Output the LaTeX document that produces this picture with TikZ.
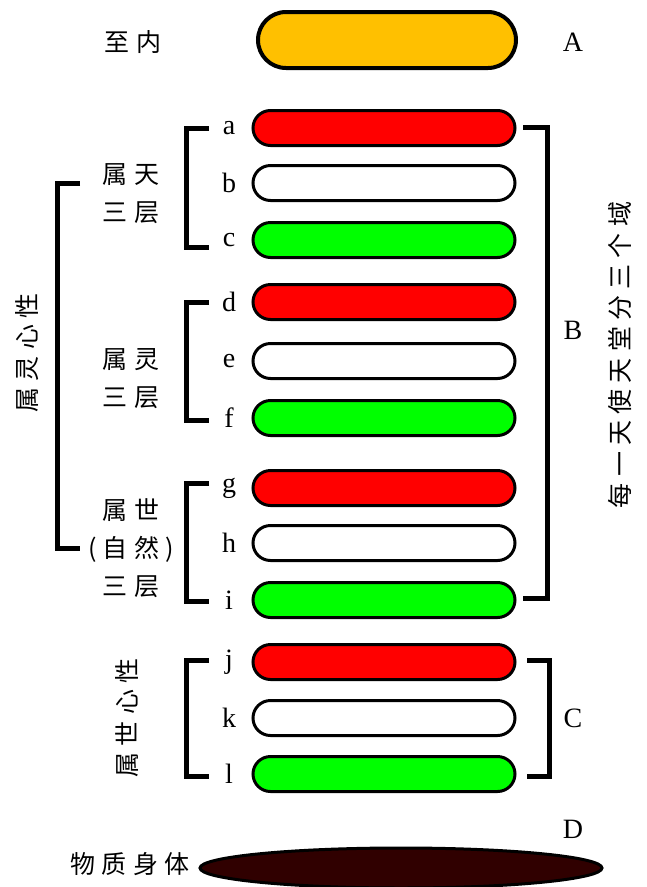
\documentclass[tikz,border=0pt]{standalone}
\usepackage{fontspec}
\setmainfont{Liberation Serif}
\newfontfamily\cjk{Noto Sans CJK SC}[LetterSpace=25]
\usetikzlibrary{shapes.misc,shapes.geometric}
\definecolor{pillorange}{HTML}{FFC000}
\definecolor{pillred}{HTML}{FF0000}
\definecolor{pillgreen}{HTML}{00FF00}
\definecolor{pillbody}{HTML}{300000}
\tikzset{
  pill/.style={rounded rectangle, draw, line width=3pt, minimum width=262pt, minimum height=35pt, inner sep=0pt},
  brk/.style={line width=5pt},
  lbl/.style={font=\fontsize{28}{30}\selectfont},
  zh/.style={font=\cjk\fontsize{25}{38}\selectfont, align=center},
}
\begin{document}
\begin{tikzpicture}[x=1pt,y=-1pt]
\useasboundingbox (0,0) rectangle (646,887);
\node[pill, fill=pillorange, line width=4pt, minimum width=258pt, minimum height=56pt] (inmost) at (387,40) {};
\node[zh] (inmosttext) at (133,42) {至内};
\node[lbl] (A) at (573,42) {A};
\foreach \n/\y/\c in {a/128/pillred, b/183/white, c/240/pillgreen,
                      d/302/pillred, e/361/white, f/418/pillgreen,
                      g/488/pillred, h/543/white, i/600/pillgreen,
                      j/662/pillred, k/718/white, l/774/pillgreen} {
  \node[pill, fill=\c] (\n) at (384,\y) {};
  \node[lbl] (l\n) at (229,\y) {\n};
}
\draw[brk] (209,128) -| (186,247) -- (209,247);
\draw[brk] (209,302) -| (186,420) -- (209,420);
\draw[brk] (209,483) -| (186,601) -- (209,601);
\draw[brk] (209,660) -| (186,776) -- (209,776);
\draw[brk] (80,183) -| (57,548) -- (80,548);
\draw[brk] (523,127) -| (547,598) -- (523,598);
\draw[brk] (527,660) -| (549,776) -- (527,776);
\node[zh] (heaven) at (131,194) {属天\\三层};
\node[zh] (spirit) at (131,379) {属灵\\三层};
\node[zh] (natural) at (131,548) {属世\\(自然)\\三层};
\node[zh, rotate=90] (spiritmind) at (27,353) {属灵心性};
\node[zh, rotate=90] (naturalmind) at (127,718) {属世心性};
\node[zh, rotate=90] (threedomains) at (620,355) {每一天使天堂分三个域};
\node[lbl] (B) at (573,330) {B};
\node[lbl] (C) at (573,718) {C};
\node[lbl] (D) at (573,829) {D};
\node[ellipse, draw, line width=3pt, fill=pillbody, minimum width=402pt, minimum height=40pt] (body) at (401,868) {};
\node[zh] (bodytext) at (130,864) {物质身体};
\end{tikzpicture}
\end{document}
